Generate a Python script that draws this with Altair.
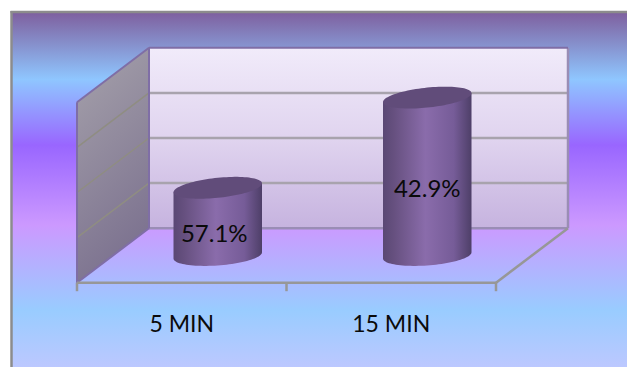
import math
import altair as alt
import pandas as pd

# Chart content
categories = ["5 MIN", "15 MIN"]
cylinder_heights = [1.5, 3.5]
share_labels = ["57.1%", "42.9%"]
grid_levels = [0, 1, 2, 3, 4]

W, H = 627, 367
# Pixels per data unit and the pixel location of the front floor origin
PX_U, PX_V = 209.5, 45.1
ORIGIN_X, ORIGIN_Y = 77.0, 282.7
# Depth axis: how far one full depth step shifts a point, in data units
DEPTH_U, DEPTH_V = 72.0 / PX_U, 54.5 / PX_V

x_scale = alt.Scale(domain=[-ORIGIN_X / PX_U, (W - ORIGIN_X) / PX_U], range=[0, W], nice=False, zero=False)
y_scale = alt.Scale(domain=[(ORIGIN_Y - H) / PX_V, ORIGIN_Y / PX_V], range=[H, 0], nice=False, zero=False)


def X(field="x"):
    return alt.X(f"{field}:Q", scale=x_scale, axis=None)


def Y(field="y"):
    return alt.Y(f"{field}:Q", scale=y_scale, axis=None)


def project(u, v, depth=0.0):
    return u + depth * DEPTH_U, v + depth * DEPTH_V


def vgrad(stops):
    return alt.Gradient(gradient="linear", x1=0, y1=0, x2=0, y2=1,
                        stops=[alt.GradientStop(offset=o, color=c) for o, c in stops])


def hgrad(stops):
    return alt.Gradient(gradient="linear", x1=0, y1=0, x2=1, y2=0,
                        stops=[alt.GradientStop(offset=o, color=c) for o, c in stops])


def segments(pairs):
    rows = []
    for i, (a, b) in enumerate(pairs):
        rows.append({"x": a[0], "y": a[1], "seg": i, "k": 0})
        rows.append({"x": b[0], "y": b[1], "seg": i, "k": 1})
    return pd.DataFrame(rows)


def line_layer(pairs, color, width):
    return alt.Chart(segments(pairs)).mark_line(color=color, strokeWidth=width).encode(
        x=X(), y=Y(), detail="seg:N", order="k:Q")


# Page background with its banded gradient and grey frame
background = alt.Chart(pd.DataFrame({"a": [0]})).mark_rect(
    fill=vgrad([(0.0, "#7e5f9e"), (0.19, "#8fc6ff"), (0.375, "#9966ff"),
                (0.6, "#cc99ff"), (0.84, "#99ccff"), (1.0, "#bcc8ff")])
).encode(x=alt.value(12), x2=alt.value(W), y=alt.value(12), y2=alt.value(H))
frame_top = alt.Chart(pd.DataFrame({"a": [0]})).mark_rule(color="#8c8c8c", strokeWidth=2.5).encode(
    x=alt.value(10.5), x2=alt.value(W), y=alt.value(12))
frame_left = alt.Chart(pd.DataFrame({"a": [0]})).mark_rule(color="#8c8c8c", strokeWidth=2.5).encode(
    x=alt.value(11.5), y=alt.value(11), y2=alt.value(H))

top_level = max(grid_levels)

# Back wall
bx0, by0 = project(0, 0, 1)
bx1, by1 = project(2, 0, 1)
back_wall = alt.Chart(pd.DataFrame({"x": [bx0, bx1], "y": [by0 + top_level] * 2, "y2": [by0] * 2})).mark_area(
    color=vgrad([(0, "#f1ebfa"), (0.5, "#e0d4ef"), (1, "#c6b3df")])
).encode(x=X(), y=Y(), y2="y2:Q")

# Left side wall, a parallelogram rising toward the back
side_wall = alt.Chart(pd.DataFrame({"x": [0, bx0], "y": [top_level, by0 + top_level], "y2": [0, by0]})).mark_area(
    color=alt.Gradient(gradient="linear", x1=0, y1=0, x2=0.3, y2=1,
                       stops=[alt.GradientStop(offset=0, color="#a6a2ab"),
                              alt.GradientStop(offset=1, color="#7d7390")])
).encode(x=X(), y=Y(), y2="y2:Q")

# Gridlines on both walls
grid_pairs = []
for level in grid_levels[1:-1]:
    grid_pairs.append((project(0, level, 1), project(2, level, 1)))
side_grid_pairs = []
for level in grid_levels[1:-1]:
    side_grid_pairs.append((project(0, level, 0), project(0, level, 1)))
back_grid = line_layer(grid_pairs, "#a8a3ad", 2.5)
side_grid = line_layer(side_grid_pairs, "#8f8d82", 1.5)

# Wall outlines
wall_edges = line_layer([
    (project(0, 0, 0), project(0, top_level, 0)),
    (project(0, top_level, 0), project(0, top_level, 1)),
    (project(0, top_level, 1), project(2, top_level, 1)),
    (project(0, 0, 1), project(0, top_level, 1)),
    (project(0, 0, 0), project(0, 0, 1)),
], "#7f6ea6", 2)
wall_edges_right = line_layer([
    (project(2, 0, 1), project(2, top_level, 1)),
    (project(0, 0, 1), project(2, 0, 1)),
], "#9a8db5", 2.5)

# Floor outline and category ticks
floor_edges = line_layer([
    (project(0, 0, 0), project(2, 0, 0)),
    (project(2, 0, 0), project(2, 0, 1)),
], "#979797", 2.5)
tick_len = 8.5 / PX_V
ticks = line_layer([((t, 0), (t, -tick_len)) for t in [0, 1, 2]], "#979797", 2.5)

# Cylinders: vertical chords across the slanted elliptical caps
HALF_W = 44.25 / PX_U
CAP_B = 10.0 / PX_V
TOP_SHEAR = 0.10 * (PX_U / PX_V)
BASE_SHEAR = 0.07 * (PX_U / PX_V)
BAR_DEPTH = 0.5
STEPS = 48

body_rows, cap_rows = [], []
for i, (cat, h) in enumerate(zip(categories, cylinder_heights)):
    cu, base_v = project(i + 0.5, 0, BAR_DEPTH)
    top_v = base_v + h
    for s in range(STEPS + 1):
        c = -math.cos(math.pi * s / STEPS)
        xu = cu + c * HALF_W
        half = CAP_B * math.sqrt(max(0.0, 1 - c * c))
        top_mid = top_v + TOP_SHEAR * c * HALF_W
        base_mid = base_v + BASE_SHEAR * c * HALF_W
        body_rows.append({"x": xu, "y": top_mid, "y2": base_mid - half, "cat": cat})
        cap_rows.append({"x": xu, "y": top_mid + half, "y2": top_mid - half, "cat": cat})

bodies = alt.Chart(pd.DataFrame(body_rows)).mark_area(
    color=hgrad([(0, "#5a4874"), (0.12, "#66507f"), (0.48, "#8a6cab"),
                 (0.8, "#765c98"), (1, "#4e3f68")])
).encode(x=X(), y=Y(), y2="y2:Q", detail="cat:N")
caps = alt.Chart(pd.DataFrame(cap_rows)).mark_area(color="#614c7a").encode(
    x=X(), y=Y(), y2="y2:Q", detail="cat:N")

# Share labels on the cylinders and category names beneath the floor
label_rows = []
for i, (txt, h) in enumerate(zip(share_labels, cylinder_heights)):
    cu, base_v = project(i + 0.5, 0, BAR_DEPTH)
    label_rows.append({"x": cu, "y": base_v + h / 2, "t": txt, "dx": -3.5 if i == 0 else 0})
share_text = alt.Chart(pd.DataFrame(label_rows)).transform_calculate(
    xs="datum.x + datum.dx / %f" % PX_U, ys="datum.y - 13 / %f" % PX_V
).mark_text(font="Lato", fontSize=24, color="#0a0a0a", baseline="middle", align="center").encode(
    x=X("xs"), y=Y("ys"), text="t:N")

cat_text = alt.Chart(pd.DataFrame({
    "x": [i + 0.5 for i in range(len(categories))],
    "y": [-(325 - ORIGIN_Y) / PX_V] * len(categories),
    "t": categories,
})).mark_text(font="Lato", fontSize=23, color="#0a0a0a", baseline="middle", align="center").encode(
    x=X(), y=Y(), text="t:N")

chart = alt.layer(
    background, frame_top, frame_left,
    back_wall, side_wall, back_grid, side_grid,
    wall_edges_right, wall_edges, floor_edges, ticks,
    bodies, caps, share_text, cat_text,
).properties(
    width=W, height=H, padding=0, background="white",
    autosize=alt.AutoSizeParams(type="none"),
).configure_view(stroke=None)

chart.save("out.html", embed_options={"renderer": "svg", "actions": False})
